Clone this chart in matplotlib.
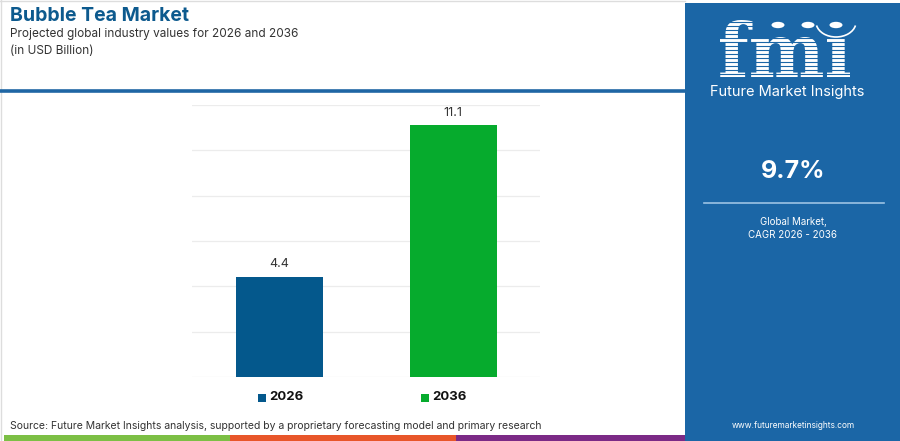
import matplotlib.pyplot as plt
import matplotlib.patches as patches
import matplotlib.lines as mlines
from matplotlib.textpath import TextPath
from matplotlib.font_manager import FontProperties
from matplotlib.transforms import Affine2D

plt.rcParams['font.family'] = ['Inter', 'DejaVu Sans']

# Data
years = ['2026', '2036']
values = [4.4, 11.1]
bar_colors = ['#04588c', '#06ab2d']
cagr = '9.7%'

W, H = 900, 441
fig = plt.figure(figsize=(9, 4.41), dpi=100)

def fx(x):
    return x / W

def fy(y):
    return 1 - y / H

# pixel coords (origin top-left) -> figure
px = Affine2D().scale(1 / W, -1 / H).translate(0, 1) + fig.transFigure

# Header text
fig.text(fx(10), fy(16), 'Bubble Tea Market', fontsize=14, fontweight='bold',
         color='#0d5a8e', va='center', ha='left')
fig.text(fx(10), fy(34), 'Projected global industry values for 2026 and 2036',
         fontsize=8.5, color='#333333', va='center', ha='left')
fig.text(fx(10), fy(51), '(in USD Billion)', fontsize=8.5, color='#333333',
         va='center', ha='left')

# light frame + header rule
fig.add_artist(mlines.Line2D([fx(0), fx(685)], [fy(0.5), fy(0.5)], color='#dddddd', lw=1))
fig.add_artist(mlines.Line2D([fx(0.5), fx(0.5)], [fy(0), fy(441)], color='#dddddd', lw=1))
fig.add_artist(mlines.Line2D([fx(0), fx(685)], [fy(90.5), fy(90.5)], color='#1f66a4', lw=2.6))

# Bottom colour strip
for x0, x1, c in [(4, 230, '#7cbf45'), (230, 456, '#e8562a'), (456, 685, '#7b2a86')]:
    fig.add_artist(patches.Rectangle((fx(x0), 0), fx(x1 - x0), 6 / H,
                                     color=c, transform=fig.transFigure, lw=0))

fig.text(fx(10), fy(426), 'Source: Future Market Insights analysis, supported by a proprietary '
         'forecasting model and primary research', fontsize=7.5, color='#333333',
         va='center', ha='left')

# Chart
ax = fig.add_axes([fx(192), fy(377), fx(540 - 192), (377 - 105) / H])
x = range(len(years))
bars = ax.bar(x, values, width=0.5, color=bar_colors, zorder=3)
for xi, v in zip(x, values):
    ax.text(xi, v + 0.3, f'{v}', ha='center', va='bottom', fontsize=9, color='#333333')
ax.set_xlim(-0.5, 1.5)
ax.set_ylim(0, 12)
ax.set_yticks(range(0, 13, 2))
ax.grid(axis='y', color='#ececec', lw=0.9, zorder=0)
ax.set_xticks([])
ax.tick_params(left=False, labelleft=False)
for s in ax.spines.values():
    s.set_visible(False)

# Legend
for lx, yr, c in [(258, years[0], bar_colors[0]), (421, years[1], bar_colors[1])]:
    fig.add_artist(patches.Rectangle((fx(lx), fy(402)), 8 / W, 8 / H, color=c,
                                     transform=fig.transFigure, lw=0))
    fig.text(fx(lx + 11), fy(397.5), yr, fontsize=9.5, fontweight='bold',
             color='#111111', va='center', ha='left')

# Right panel
panel_blue = '#1b66a6'
fig.add_artist(patches.Rectangle((fx(685), 0), fx(215), fy(3), color=panel_blue,
                                 transform=fig.transFigure, lw=0))

# fmi logo graphic: glyph outlines fitted into the logo box, striped
tp = TextPath((0, 0), 'fmi', size=10, prop=FontProperties(family='DejaVu Serif', weight='bold'))
ext = tp.get_extents()
sx = (850 - 720) / ext.width
sy = (77 - 20) / ext.y1
logo_path = Affine2D().translate(-ext.x0, 0).scale(sx, -sy).translate(720, 77).transform_path(tp)
fig.add_artist(patches.PathPatch(logo_path, facecolor='white', lw=0, transform=px, zorder=3))
for yy in range(22, 80, 4):
    fig.add_artist(mlines.Line2D([fx(712), fx(858)], [fy(yy), fy(yy)],
                                 color=panel_blue, lw=0.8, zorder=4))
# hide the serif i-dot, then the three globe marks
fig.add_artist(patches.Rectangle((822, 16), 30, 20, color=panel_blue,
                                 transform=px, lw=0, zorder=4.5))
for cx in [778, 808, 836]:
    fig.add_artist(patches.Circle((fx(cx), fy(25)), 6.5 / W, color='white',
                                  transform=fig.transFigure, lw=0, zorder=5))
fig.add_artist(patches.Arc((fx(836), fy(22)), 40 / W, 30 / H, theta1=200, theta2=340,
                           color='white', lw=1.2, transform=fig.transFigure, zorder=5))
fig.text(fx(787), fy(92), 'Future Market Insights', fontsize=10.5, color='white',
         ha='center', va='center')

fig.text(fx(793), fy(172), cagr, fontsize=18, fontweight='bold', color='white',
         ha='center', va='center')
fig.add_artist(mlines.Line2D([fx(704), fx(884)], [fy(203), fy(203)],
                             color='#9cc3e4', lw=1.2))
fig.text(fx(793), fy(222), 'Global Market,', fontsize=7, color='white',
         ha='center', va='center')
fig.text(fx(793), fy(235), 'CAGR 2026 - 2036', fontsize=7, color='white',
         ha='center', va='center')
fig.text(fx(793), fy(425), 'www.futuremarketinsights.com', fontsize=6, color='white',
         ha='center', va='center')

fig.savefig('out.png', dpi=100)
